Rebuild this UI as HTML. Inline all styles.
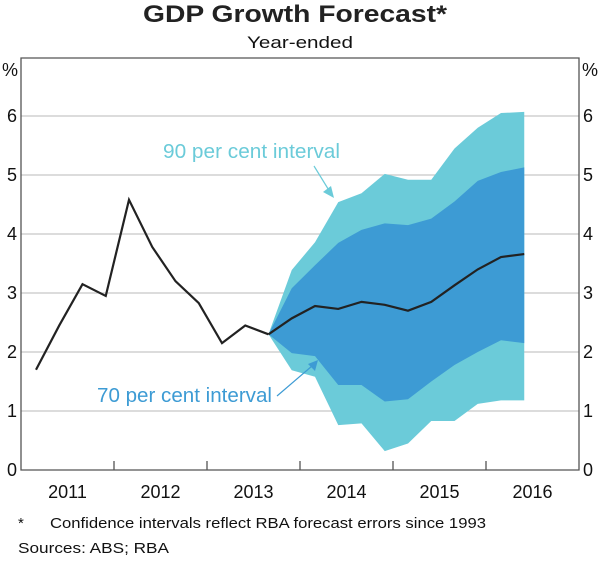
<!DOCTYPE html>
<html><head><meta charset="utf-8"><style>
body{margin:0;background:#fff;font-family:"Liberation Sans",Arial,sans-serif}
svg text{font-family:"Liberation Sans",Arial,sans-serif}
</style></head><body>
<svg id="c" width="600" height="558" xmlns="http://www.w3.org/2000/svg">
<text x="143" y="22" font-size="24" font-weight="bold" fill="#222" textLength="304" lengthAdjust="spacingAndGlyphs">GDP Growth Forecast*</text>
<text x="247" y="48" font-size="17" fill="#111" textLength="106" lengthAdjust="spacingAndGlyphs">Year-ended</text>
<g id="grid"></g><g id="bands"></g><g id="lines"></g><g id="axes"></g>
<text x="163" y="158" font-size="20" fill="#6BCBD9" textLength="177" lengthAdjust="spacingAndGlyphs">90 per cent interval</text>
<text x="97" y="402" font-size="20" fill="#3D9BD4" textLength="175" lengthAdjust="spacingAndGlyphs">70 per cent interval</text>
<line x1="314" y1="166" x2="330" y2="192" stroke="#6BCBD9" stroke-width="1.2"/>
<polygon points="334,198 323,192 331,186" fill="#6BCBD9"/>
<line x1="277" y1="396" x2="312" y2="366" stroke="#3D9BD4" stroke-width="1.2"/>
<polygon points="318,360 315,371 308,364" fill="#3D9BD4"/>
<text x="18" y="528" font-size="15" fill="#111">*</text>
<text x="50" y="528" font-size="15" fill="#111" textLength="436" lengthAdjust="spacingAndGlyphs">Confidence intervals reflect RBA forecast errors since 1993</text>
<text x="18" y="553" font-size="15" fill="#111" textLength="151" lengthAdjust="spacingAndGlyphs">Sources:  ABS; RBA</text>
</svg>
<script>
const years=["2011","2012","2013","2014","2015","2016"];
const yTicks=[0,1,2,3,4,5,6];
const history=[1.7,2.45,3.15,2.95,4.58,3.78,3.2,2.83,2.15,2.45,2.3];
const forecast=[2.3,2.57,2.78,2.73,2.85,2.8,2.7,2.85,3.13,3.4,3.61,3.66];
const upper90=[2.3,3.39,3.86,4.54,4.69,5.02,4.92,4.92,5.45,5.8,6.05,6.07];
const upper70=[2.3,3.08,3.47,3.85,4.07,4.18,4.15,4.26,4.55,4.9,5.05,5.13];
const lower70=[2.3,1.98,1.93,1.44,1.44,1.16,1.2,1.5,1.78,2.0,2.2,2.15];
const lower90=[2.3,1.69,1.58,0.76,0.79,0.32,0.45,0.83,0.83,1.12,1.18,1.18];
const L=21,R=579,T=58,B=470;
const NS="http://www.w3.org/2000/svg";
const yS=v=>B-v*59;
const yearW=(R-L)/years.length;
const xQ=i=>L+15+i*yearW/4;
function mk(tag,attrs,parent){const e=document.createElementNS(NS,tag);for(const k in attrs)e.setAttribute(k,attrs[k]);document.getElementById(parent).appendChild(e);return e;}
yTicks.forEach(v=>{
 if(v>0){const g=mk("line",{x1:L,x2:R,y1:yS(v),y2:yS(v),stroke:"#c8c8c8","stroke-width":1.2},"grid");
 
 }
 const a=mk("text",{x:L-4,y:yS(v)+6,"text-anchor":"end","font-size":18,fill:"#111"},"axes");a.textContent=v;
 
 
 const b=mk("text",{x:R+4,y:yS(v)+6,"font-size":18,fill:"#111"},"axes");b.textContent=v;
 
 
});
["left","right"].forEach((s,k)=>{const p=mk("text",{x:k?R+3:L-3,y:76,"text-anchor":k?"start":"end","font-size":18,fill:"#111"},"axes");p.textContent="%";
 
 });
const off=history.length-1;
function band(up,lo,col,name){const pts=up.map((v,i)=>xQ(off+i)+","+yS(v)).concat(lo.map((v,i)=>[xQ(off+i),yS(v)]).reverse().map(p=>p[0]+","+p[1]));
 const e=mk("polygon",{points:pts.join(" "),fill:col},"bands");
 
 }
band(upper90,lower90,"#6BCBD9","band-90");
band(upper70,lower70,"#3D9BD4","band-70");
const h=mk("polyline",{points:history.map((v,i)=>xQ(i)+","+yS(v)).join(" "),fill:"none",stroke:"#222","stroke-width":2.2},"lines");


const f=mk("polyline",{points:forecast.map((v,i)=>xQ(off+i)+","+yS(v)).join(" "),fill:"none",stroke:"#222","stroke-width":2.2},"lines");


const fr=mk("path",{d:`M${L},${T}H${R}V${B}H${L}Z`,fill:"none",stroke:"#555","stroke-width":1.3},"axes");


years.forEach((y,i)=>{
 if(i>0){const t=mk("line",{x1:L+i*yearW,x2:L+i*yearW,y1:B,y2:B-9,stroke:"#555","stroke-width":1.3},"axes");
 
 }
 const l=mk("text",{x:L+(i+0.5)*yearW,y:B+28,"text-anchor":"middle","font-size":18,fill:"#111"},"axes");l.textContent=y;
 
 
});
</script>
</body></html>
